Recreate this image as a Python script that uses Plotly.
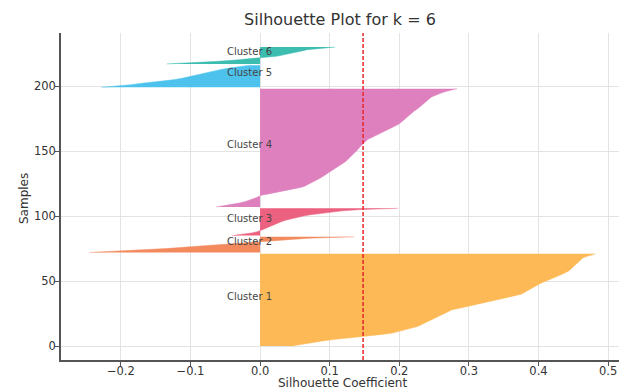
import numpy as np
import plotly.graph_objects as go

cluster_names = ["Cluster 1", "Cluster 2", "Cluster 3", "Cluster 4", "Cluster 5", "Cluster 6"]

cluster1 = [0.045, 0.055, 0.065, 0.078, 0.09, 0.105, 0.125, 0.145, 0.16, 0.175,
            0.19, 0.198, 0.206, 0.213, 0.22, 0.226, 0.23, 0.234, 0.238, 0.241,
            0.244, 0.248, 0.252, 0.256, 0.26, 0.264, 0.268, 0.272, 0.276, 0.285,
            0.294, 0.303, 0.312, 0.32, 0.328, 0.336, 0.345, 0.352, 0.36, 0.368,
            0.376, 0.379, 0.382, 0.385, 0.388, 0.391, 0.394, 0.398, 0.402, 0.406,
            0.411, 0.416, 0.421, 0.425, 0.429, 0.433, 0.437, 0.441, 0.444, 0.446,
            0.448, 0.45, 0.452, 0.454, 0.456, 0.458, 0.46, 0.462, 0.464, 0.47,
            0.476, 0.482]
cluster2 = [-0.245, -0.2, -0.165, -0.135, -0.11, -0.085, -0.06, -0.035, -0.012,
            0.01, 0.04, 0.07, 0.135]
cluster3 = [-0.04, -0.025, -0.012, -0.004, 0.002, 0.006, 0.01, 0.014, 0.018, 0.022,
            0.027, 0.032, 0.038, 0.045, 0.053, 0.062, 0.072, 0.085, 0.1, 0.118,
            0.145, 0.198]
cluster4 = [-0.063, -0.05, -0.04, -0.03, -0.022, -0.016, -0.01, -0.006, -0.002, 0.002,
            0.012, 0.022, 0.032, 0.042, 0.05, 0.058, 0.064, 0.068, 0.072, 0.076,
            0.08, 0.083, 0.086, 0.089, 0.092, 0.095, 0.097, 0.1, 0.103, 0.105,
            0.108, 0.111, 0.114, 0.117, 0.12, 0.123, 0.125, 0.127, 0.129, 0.131,
            0.133, 0.135, 0.137, 0.139, 0.14, 0.142, 0.143, 0.145, 0.146, 0.148,
            0.15, 0.152, 0.155, 0.159, 0.163, 0.167, 0.171, 0.175, 0.179, 0.183,
            0.187, 0.191, 0.194, 0.197, 0.2, 0.203, 0.205, 0.207, 0.209, 0.211,
            0.213, 0.215, 0.217, 0.219, 0.222, 0.225, 0.228, 0.23, 0.232, 0.234,
            0.236, 0.238, 0.24, 0.242, 0.245, 0.248, 0.252, 0.257, 0.262, 0.268,
            0.275, 0.283]
cluster5 = [-0.228, -0.2, -0.185, -0.172, -0.155, -0.135, -0.122, -0.112, -0.104,
            -0.096, -0.088, -0.082, -0.074, -0.064, -0.054, -0.042, -0.028, -0.014]
cluster6 = [-0.134, -0.09, -0.06, -0.035, -0.012, 0.008, 0.024, 0.034, 0.044, 0.052,
            0.06, 0.068, 0.085, 0.108]

cluster_values = [cluster1, cluster2, cluster3, cluster4, cluster5, cluster6]
avg_score = 0.148

x_ticks = [-0.2, -0.1, 0.0, 0.1, 0.2, 0.3, 0.4, 0.5]
y_ticks = [0, 50, 100, 150, 200]

colors = ["#FDB955", "#F28A5E", "#EC6080", "#DE80BD", "#4DC2EC", "#3DBDB0"]

FONT = "DejaVu Sans, Liberation Sans, sans-serif"

# page body has an 8px default margin; figure coords = screen coords - 8
OFF = 8
W, H = 627 - OFF, 392 - OFF
L, T = 61 - OFF, 33 - OFF
R = W - (622 - OFF)
B = H - (360 - OFF)
pw, ph = W - L - R, H - T - B


def px_x(sx):
    return (sx - OFF - L) / pw


def px_y(sy):
    return 1 - (sy - OFF - T) / ph


fig = go.Figure()
annotations = []
y_lower = 0
for name, vals, col in zip(cluster_names, cluster_values, colors):
    vals = list(vals)
    n = len(vals)
    ys = list(np.arange(y_lower, y_lower + n))
    fig.add_trace(go.Scatter(
        x=vals, y=ys, mode="lines", fill="tozerox",
        line=dict(width=0.5, color=col), fillcolor=col,
        showlegend=False, hoverinfo="skip"))
    annotations.append(dict(
        x=-0.05, y=y_lower + 0.5 * n, xref="x", yref="y",
        text=name, showarrow=False, xanchor="left", yanchor="middle",
        yshift=3, font=dict(family=FONT, size=10, color="#444444")))
    y_lower += n

# axis titles
annotations.append(dict(
    x=px_x(342), y=px_y(383), xref="paper", yref="paper", text="Silhouette Coefficient",
    xanchor="center", yanchor="middle",
    showarrow=False, font=dict(family=FONT, size=12, color="#333333")))
annotations.append(dict(
    x=px_x(24), y=px_y(199), xref="paper", yref="paper", text="Samples", textangle=-90,
    xanchor="center", yanchor="middle",
    showarrow=False, font=dict(family=FONT, size=12, color="#333333")))

fig.add_vline(x=avg_score, line=dict(color="#E8262A", width=1.5, dash="4px,2px"))

fig.update_layout(
    width=W, height=H,
    margin=dict(l=L, r=R, t=T, b=B, autoexpand=False),
    paper_bgcolor="white", plot_bgcolor="white",
    font=dict(family=FONT, color="#333333"),
    title=dict(text="Silhouette Plot for k = 6", x=(340 - OFF) / W, xanchor="center",
               y=1 - (19 - OFF) / H, yanchor="middle", yref="container",
               font=dict(family=FONT, size=16, color="#333333")),
    annotations=annotations,
)
fig.update_xaxes(
    range=[-0.286, 0.52], tickvals=x_ticks,
    ticktext=[f"{v:.1f}".replace("-", "\u2212") for v in x_ticks],
    showgrid=True, gridcolor="#E3E3E3", gridwidth=1, zeroline=False, automargin=False,
    showline=True, linecolor="#555555", linewidth=1.5, ticks="outside", ticklen=4,
    ticklabelstandoff=-5,
    tickcolor="#555555", tickfont=dict(family=FONT, size=11.5, color="#333333"),
)
fig.update_yaxes(
    range=[-10.7, 240.8], tickvals=y_ticks,
    showgrid=True, gridcolor="#E3E3E3", gridwidth=1, zeroline=False, automargin=False,
    showline=True, linecolor="#555555", linewidth=1.5, ticks="outside", ticklen=4,
    ticklabelstandoff=-3,
    tickcolor="#555555", tickfont=dict(family=FONT, size=11.5, color="#333333"),
)

fig.write_html("out.html")
